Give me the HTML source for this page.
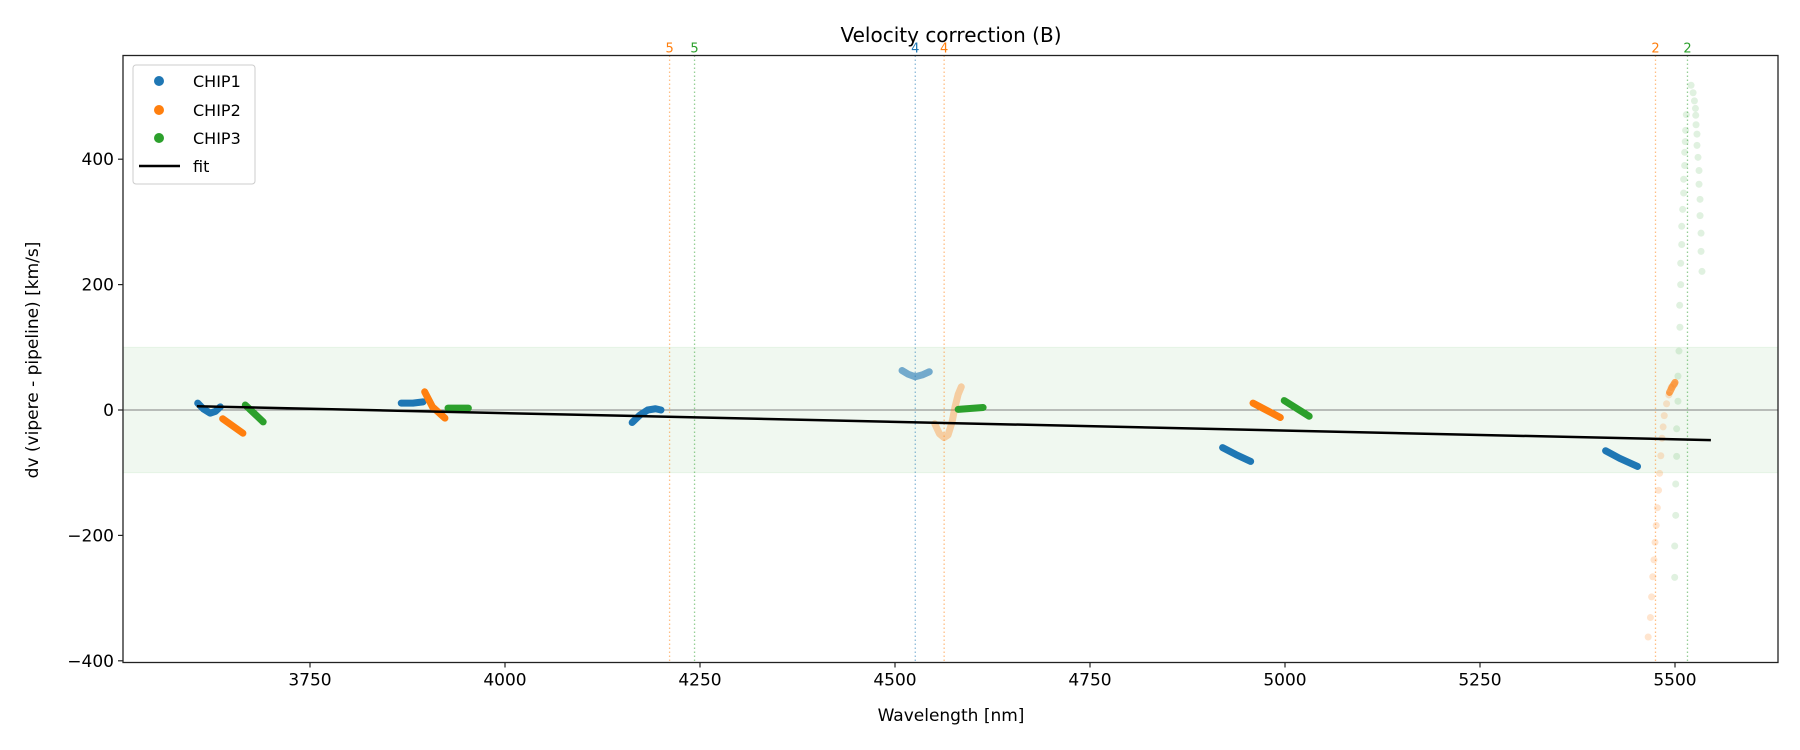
<!DOCTYPE html>
<html><head><meta charset="utf-8">
<style>
html,body{margin:0;padding:0;background:#fff;}
svg{display:block;font-family:"DejaVu Sans","Liberation Sans",sans-serif;}
</style></head>
<body>
<svg id="chart" width="1800" height="750" viewBox="0 0 1800 750" xmlns="http://www.w3.org/2000/svg">
<g id="plot"></g>
</svg>
<script>
// ---- data ----
const xTicks = [3750, 4000, 4250, 4500, 4750, 5000, 5250, 5500];
const yTicks = [-400, -200, 0, 200, 400];
const bandRange = [-100, 100];
const fitW = [3605, 5546];
const fitV = [6, -48];
const chip1Segs = [
  {w:[3606,3613,3622,3629,3635], v:[11,2,-5,-2,5], a:1},
  {w:[3867,3882,3895], v:[11,11,13], a:1},
  {w:[4163,4173,4183,4193,4200], v:[-20,-8,0,2,0], a:1},
  {w:[4509,4517,4526,4535,4544], v:[63,57,53,56,61], a:0.6},
  {w:[4920,4937,4956], v:[-60,-71,-82], a:1},
  {w:[5411,5429,5452], v:[-65,-77,-90], a:1}
];
const chip2Segs = [
  {w:[3638,3664], v:[-14,-37], a:1},
  {w:[3897,3907,3923], v:[29,5,-13], a:1},
  {w:[4551,4557,4563,4568,4573,4577,4581,4585], v:[-22,-38,-44,-40,-20,5,25,37], a:0.35},
  {w:[4959,4994], v:[11,-12], a:1},
  {w:[5493,5497,5500], v:[28,38,44], a:0.7}
];
const chip3Segs = [
  {w:[3667,3690], v:[8,-19], a:1},
  {w:[3927,3953], v:[3,3], a:1},
  {w:[4581,4613], v:[1,4], a:1},
  {w:[4999,5031], v:[15,-10], a:1}
];
const chip2DotsW = [5465.6,5468.5,5470,5471.5,5473,5474.4,5475.9,5477.4,5478.9,5480.3,5481.8,5483.3,5484.8,5486.2,5489.2,5492.1,5495,5499.5];
const chip2DotsV = [-362,-331,-298,-266,-239,-211,-184,-156,-128,-101,-73,-45,-27,-9,10,24,36,41];
const chip3DotsW = [5499.6,5499.6,5500.9,5500.9,5502.1,5502.1,5503.8,5503.8,5505.1,5506.3,5506,5507.3,5507.3,5508.6,5508.6,5509.8,5511.1,5511.1,5512.4,5512.4,5513.2,5513.6,5514.5,5520.6,5523.2,5524.9,5526.2,5526.6,5527,5528.2,5528.2,5529.5,5530.8,5530.8,5532.1,5532.1,5533.4,5533.4,5534.6];
const chip3DotsV = [-267,-217,-168,-118,-74,-30,14,54,94,132,167,200,234,264,293,320,346,368,390,411,428,446,471,518,506,493,481,470,455,440,422,403,382,360,336,310,282,253,221];
const lineW = [4211, 4243, 4526, 4563, 5475, 5516];
const lineLabels = ["5","5","4","4","2","2"];
const lineColors = ["#ff7f0e","#2ca02c","#1f77b4","#ff7f0e","#ff7f0e","#2ca02c"];

// ---- axes ----
const L=123, R=1778, T=55.5, B=662.5;
function x(w){ return 505 + (w-4000)*0.78; }
function y(v){ return 410 - v*0.627; }
const NS="http://www.w3.org/2000/svg";
const g=document.getElementById('plot');
function el(tag, attrs, parent){ const e=document.createElementNS(NS,tag); for(const k in attrs) e.setAttribute(k,attrs[k]); (parent||g).appendChild(e); return e; }

const band = el('rect',{x:L,y:y(bandRange[1]),width:R-L,height:y(bandRange[0])-y(bandRange[1]),fill:'#2ca02c','fill-opacity':0.07,stroke:'#2ca02c','stroke-opacity':0.08});


const zl = el('line',{x1:L,x2:R,y1:y(0),y2:y(0),stroke:'#808080','stroke-width':1});



lineW.forEach((w,i)=>{
  const ln = el('line',{x1:x(w),x2:x(w),y1:T,y2:B,stroke:lineColors[i],'stroke-opacity':0.5,'stroke-width':1.3,'stroke-dasharray':'1.5,2.5'});
  
  
  const t = el('text',{x:x(w),y:T-3,'text-anchor':'middle','font-size':13,fill:lineColors[i]});
  t.textContent=lineLabels[i];
  
  
});

function drawSegs(segs,color,name){
  segs.forEach(s=>{
    const pts=s.w.map((w,i)=>x(w)+','+y(s.v[i])).join(' ');
    const p=el('polyline',{points:pts,fill:'none',stroke:color,'stroke-opacity':s.a,'stroke-width':7,'stroke-linecap':'round','stroke-linejoin':'round'});
    
    
  });
}
drawSegs(chip1Segs,'#1f77b4','chip1-segment');
drawSegs(chip2Segs,'#ff7f0e','chip2-segment');
drawSegs(chip3Segs,'#2ca02c','chip3-segment');
function drawDots(ws,vs,color,a,name){
  ws.forEach((w,i)=>{
    const c=el('circle',{cx:x(w),cy:y(vs[i]),r:3.5,fill:color,'fill-opacity':a});
    
    
  });
}
drawDots(chip2DotsW,chip2DotsV,'#ff7f0e',0.2,'chip2-outlier-point');
drawDots(chip3DotsW,chip3DotsV,'#2ca02c',0.15,'chip3-outlier-point');

const fit = el('line',{x1:x(fitW[0]),y1:y(fitV[0]),x2:x(fitW[1]),y2:y(fitV[1]),stroke:'#000','stroke-width':2.5});



const frame = el('rect',{x:L,y:T,width:R-L,height:B-T,fill:'none',stroke:'#222','stroke-width':1.3});



xTicks.forEach(t=>{
  const tk=el('line',{x1:x(t),x2:x(t),y1:B,y2:B+5,stroke:'#222','stroke-width':1.2});
  
  
  const tx=el('text',{x:x(t),y:B+23,'text-anchor':'middle','font-size':17,fill:'#000'});
  tx.textContent=t;
  
  
});
yTicks.forEach(t=>{
  const tk=el('line',{x1:L-5,x2:L,y1:y(t),y2:y(t),stroke:'#222','stroke-width':1.2});
  
  
  const tx=el('text',{x:L-9,y:y(t)+6,'text-anchor':'end','font-size':17,fill:'#000'});
  tx.textContent=(t<0?'\u2212'+Math.abs(t):t);
  
  
});
</script>
<svg style="position:absolute;left:0;top:0" width="1800" height="750" font-family="DejaVu Sans, Liberation Sans, sans-serif">
<text x="951" y="42" text-anchor="middle" font-size="20">Velocity correction (B)</text>
<text x="951" y="721" text-anchor="middle" font-size="17">Wavelength [nm]</text>
<text x="38" y="360" text-anchor="middle" font-size="17" transform="rotate(-90 38 360)">dv (vipere - pipeline) [km/s]</text>
<g font-size="16">
<rect x="133" y="65" width="122" height="119" rx="3" fill="#fff" fill-opacity="0.8" stroke="#ccc"/>
<g><circle cx="159" cy="81" r="5" fill="#1f77b4"/><text x="193" y="87">CHIP1</text></g>
<g><circle cx="159" cy="110" r="5" fill="#ff7f0e"/><text x="193" y="116">CHIP2</text></g>
<g><circle cx="159" cy="138" r="5" fill="#2ca02c"/><text x="193" y="144">CHIP3</text></g>
<g><line x1="139" x2="180" y1="166" y2="166" stroke="#000" stroke-width="2.5"/><text x="193" y="172">fit</text></g>
</g>
</svg>
</body></html>
